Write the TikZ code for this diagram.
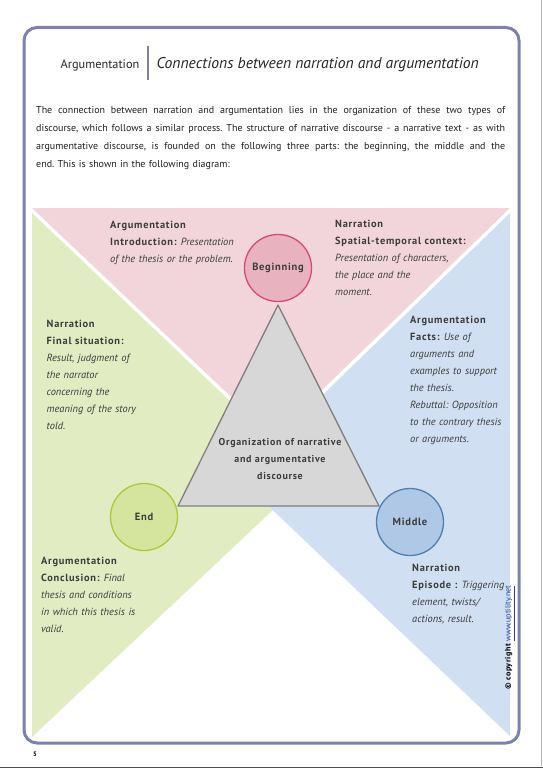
\documentclass[tikz,border=0pt]{standalone}
\usepackage{fontspec}
\setmainfont{PT Sans}[BoldFeatures={LetterSpace=7}]
\usepackage{graphicx}
\frenchspacing
\definecolor{framec}{HTML}{7D80B2}
\definecolor{pinkF}{HTML}{F2D5DB}
\definecolor{greenF}{HTML}{E2ECC2}
\definecolor{blueF}{HTML}{D0E0F2}
\definecolor{begF}{HTML}{E8B3BE}
\definecolor{begD}{HTML}{D9467A}
\definecolor{endF}{HTML}{D5E59E}
\definecolor{endD}{HTML}{A7CB3C}
\definecolor{midF}{HTML}{AFC8E5}
\definecolor{midD}{HTML}{4D7FB5}
\definecolor{triF}{HTML}{D6D7D6}
\definecolor{triD}{HTML}{7F7F7F}
\definecolor{txtc}{HTML}{3C3C3C}
\definecolor{parc}{HTML}{231F20}
\definecolor{linkc}{HTML}{2B3D9C}
\newcommand{\jline}[1]{\leavevmode\hbox to 469pt{\spaceskip=0.26em plus 2em minus 0.06em\relax #1}}
\tikzset{
  txtblock/.style={anchor=base west, inner sep=0, align=left, text width=#1,
    font=\fontsize{10.4}{17}\selectfont, text=txtc},
  circnode/.style={circle, minimum size=67pt, inner sep=0, line width=1.3pt,
    font=\fontsize{10.5}{12}\selectfont\bfseries, text=txtc},
}
\begin{document}
\begin{tikzpicture}[x=1pt,y=-1pt]
\useasboundingbox (0,0) rectangle (543,768);
\fill[white] (0,0) rectangle (543,768);
% page edges
\draw[gray!60, line width=0.8pt] (541.5,0) -- (541.5,766);
\draw[black!70, line width=1pt] (0,767) -- (543,767);

% coloured regions
\fill[pinkF] (32,208) -- (510,208) -- (273.5,437) -- cycle;
\fill[greenF] (32,213) -- (32,737) -- (309,476) -- cycle;
\fill[blueF] (510,213) -- (510,736) -- (238,477) -- cycle;

% frame
\draw[framec, line width=3pt, rounded corners=13pt] (24,27.5) rectangle (519,743);

% header
\node[anchor=base west, inner sep=0, font=\fontsize{12.3}{15}\selectfont, text=black!85] (hd1) at (60.5,68) {Argumentation};
\coordinate (barT) at (148,46);
\coordinate (barB) at (148,80);
\draw[framec, line width=1.6pt] (barT) -- (barB);
\node[anchor=base west, inner sep=0, font=\fontsize{15.6}{17}\selectfont\itshape, text=black!85] (hd2) at (156.5,68) {Connections between narration and argumentation};

% paragraph
\node[anchor=base west, inner sep=0, align=left, text width=469pt, font=\fontsize{10}{18}\selectfont, text=parc] (para) at (36,113)
{\jline{The connection between narration and argumentation lies in the organization of these two types of}\\
\jline{discourse, which follows a similar process. The structure of narrative discourse - a narrative text - as with}\\
\jline{argumentative discourse, is founded on the following three parts: the beginning, the middle and the}\\
end. This is shown in the following diagram:};

% central triangle
\coordinate (T1) at (278,305);
\coordinate (T2) at (178,506);
\coordinate (T3) at (379,506);
\filldraw[fill=triF, draw=triD, line width=1.3pt, line join=round] (T1) -- (T2) -- (T3) -- cycle;
\node[anchor=base, inner sep=0, align=center, text width=160pt, font=\fontsize{10}{17}\selectfont\bfseries, text=txtc] (org) at (280,445.5)
{Organization of narrative\\and argumentative\\discourse};

% circles
\node[circnode, fill=begF, draw=begD] (beg) at (278,268) {Beginning};
\node[circnode, fill=endF, draw=endD] (end) at (144,517) {End};
\node[circnode, fill=midF, draw=midD] (mid) at (410,522) {Middle};

% text blocks
\node[txtblock=130pt] (tl) at (110,228)
{\textbf{Argumentation}\\
\textbf{Introduction:} \textit{Presentation}\\
\textit{of the thesis or the problem.}};

\node[txtblock=140pt] (tr) at (335,227)
{\textbf{Narration}\\
\textbf{Spatial-temporal context:}\\
\textit{Presentation of characters,}\\
\textit{the place and the}\\
\textit{moment.}};

\node[txtblock=120pt] (lt) at (46.5,327)
{\textbf{Narration}\\
\textbf{Final situation:}\\
\textit{Result, judgment of}\\
\textit{the narrator}\\
\textit{concerning the}\\
\textit{meaning of the story}\\
\textit{told.}};

\node[txtblock=100pt] (rt) at (410,323.5)
{\textbf{Argumentation}\\
\textbf{Facts:} \textit{Use of}\\
\textit{arguments and}\\
\textit{examples to support}\\
\textit{the thesis.}\\
\textit{Rebuttal: Opposition}\\
\textit{to the contrary thesis}\\
\textit{or arguments.}};

\node[txtblock=120pt] (bl) at (41,564.5)
{\textbf{Argumentation}\\
\textbf{Conclusion:} \textit{Final}\\
\textit{thesis and conditions}\\
\textit{in which this thesis is}\\
\textit{valid.}};

\node[txtblock=95pt] (br) at (412,571.5)
{\textbf{Narration}\\
\textbf{Episode :} \textit{Triggering}\\
\textit{element, twists/}\\
\textit{actions, result.}};

% copyright
\node[anchor=south east, inner sep=0] (copy) at (514.5,690)
{\rotatebox{90}{\fontsize{8}{10}\selectfont\textbf{© copyright} \textcolor{linkc}{\underline{www.uptility.net}}}};

% page number
\node[anchor=base west, inner sep=0, font=\fontsize{6.5}{8}\selectfont\bfseries] (pg) at (33,756) {5};
\end{tikzpicture}
\end{document}
